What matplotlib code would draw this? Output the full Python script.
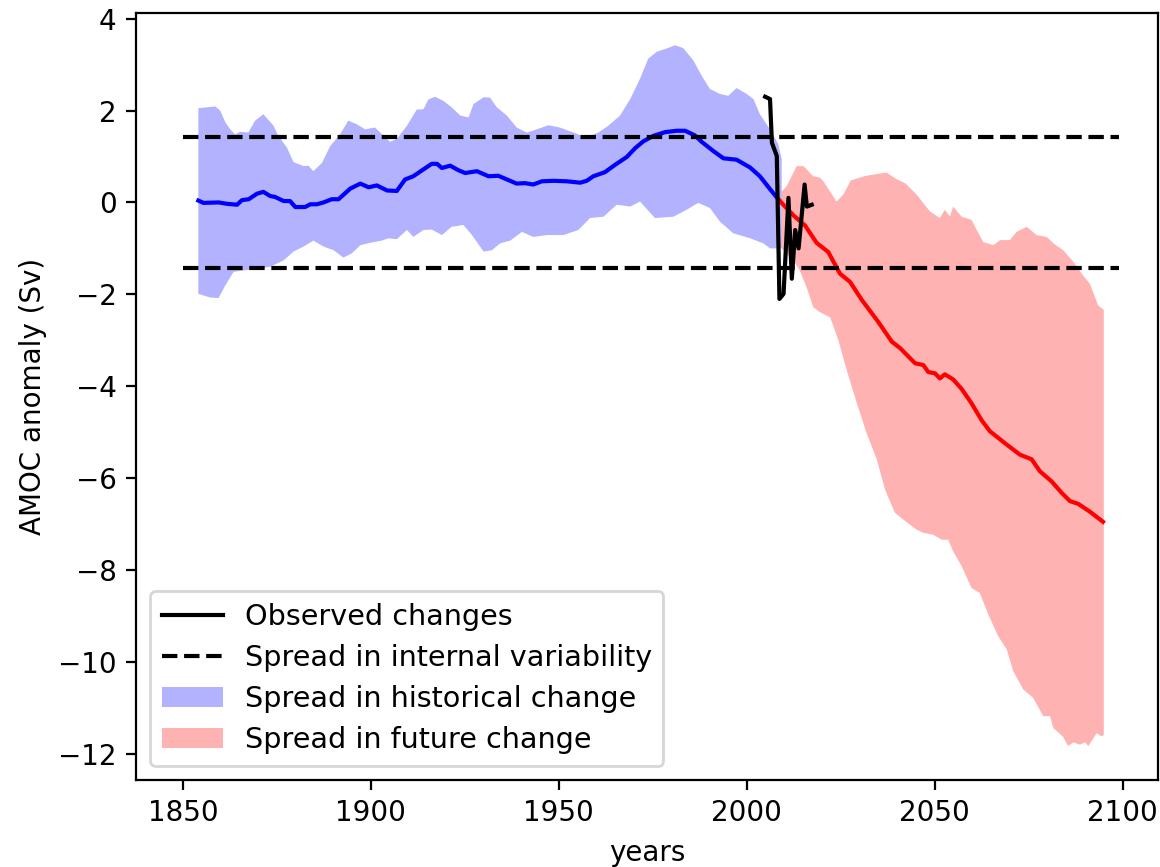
import numpy as np
import matplotlib
matplotlib.use("Agg")
import matplotlib.pyplot as plt

# historical ensemble mean and spread
hist_years = [1854.1, 1855.5, 1859.5, 1861.7, 1864.4, 1865.7, 1867.5, 1869.7, 1871.4, 1873.2,
              1874.5, 1876.8, 1878.5, 1879.9, 1882.5, 1883.9, 1885.6, 1887.4, 1889.6, 1891.4,
              1894.5, 1897.2, 1899.4, 1901.6, 1904.3, 1906.9, 1909.1, 1911.3, 1914.0, 1916.2,
              1917.6, 1918.9, 1921.1, 1923.3, 1925.1, 1928.2, 1931.3, 1933.9, 1936.2, 1938.8,
              1941.0, 1943.2, 1945.5, 1948.6, 1952.1, 1955.7, 1957.4, 1959.2, 1962.3, 1965.0,
              1968.1, 1970.3, 1972.5, 1975.2, 1978.3, 1981.4, 1983.6, 1986.2, 1988.0, 1991.1,
              1993.8, 1997.3, 2000.9, 2003.5, 2006.2, 2008.6]
hist_mean = [0.04, -0.01, 0.00, -0.03, -0.05, 0.05, 0.07, 0.19, 0.23, 0.14,
             0.12, 0.03, 0.03, -0.10, -0.10, -0.04, -0.04, 0.00, 0.07, 0.07,
             0.30, 0.41, 0.33, 0.37, 0.26, 0.25, 0.50, 0.57, 0.72, 0.84,
             0.84, 0.75, 0.80, 0.70, 0.64, 0.68, 0.57, 0.58, 0.50, 0.41,
             0.42, 0.39, 0.46, 0.47, 0.46, 0.43, 0.47, 0.57, 0.66, 0.82,
             0.99, 1.18, 1.33, 1.45, 1.53, 1.56, 1.56, 1.46, 1.32, 1.12,
             0.96, 0.93, 0.76, 0.57, 0.29, 0.05]

hist_hi_years = [1854.1, 1856.4, 1858.6, 1859.9, 1861.3, 1862.6, 1863.9, 1865.2, 1867.4, 1869.2,
                 1871.4, 1874.1, 1875.4, 1877.7, 1879.4, 1882.1, 1883.4, 1884.7, 1887.0, 1889.2,
                 1891.8, 1894.0, 1896.3, 1898.5, 1901.1, 1903.4, 1905.1, 1906.9, 1909.6, 1912.2,
                 1914.0, 1915.3, 1917.1, 1919.3, 1921.5, 1923.8, 1926.0, 1927.3, 1930.0, 1931.7,
                 1933.5, 1936.2, 1938.8, 1941.5, 1944.1, 1947.2, 1950.3, 1953.9, 1957.4, 1960.5,
                 1963.2, 1966.3, 1969.0, 1971.6, 1973.8, 1976.1, 1978.7, 1980.9, 1983.1, 1985.8,
                 1988.0, 1990.2, 1992.9, 1995.1, 1997.3, 2000.0, 2001.8, 2003.5, 2006.2, 2008.4,
                 2009.3]
hist_hi = [2.05, 2.07, 2.09, 2.00, 1.74, 1.59, 1.48, 1.54, 1.52, 1.78,
           1.92, 1.67, 1.45, 1.19, 0.88, 0.79, 0.80, 0.68, 0.86, 1.23,
           1.48, 1.78, 1.70, 1.59, 1.63, 1.45, 1.32, 1.38, 1.67, 2.02,
           2.03, 2.24, 2.30, 2.21, 2.07, 1.89, 1.85, 2.14, 2.29, 2.28,
           2.07, 1.89, 1.63, 1.52, 1.59, 1.68, 1.63, 1.52, 1.41, 1.52,
           1.67, 1.89, 2.25, 2.69, 3.13, 3.28, 3.35, 3.42, 3.36, 3.09,
           2.76, 2.47, 2.36, 2.32, 2.49, 2.36, 2.25, 1.92, 1.59, 1.27,
           0.94]

hist_lo_years = [1854.1, 1857.3, 1859.5, 1861.3, 1863.5, 1866.1, 1870.1, 1873.2, 1876.8, 1879.4,
                 1882.1, 1884.7, 1887.4, 1890.1, 1892.7, 1894.9, 1897.2, 1899.8, 1902.9, 1904.7,
                 1906.9, 1909.6, 1911.3, 1914.0, 1916.2, 1918.9, 1921.5, 1924.6, 1926.9, 1930.0,
                 1932.2, 1934.4, 1937.1, 1940.2, 1943.2, 1946.8, 1951.2, 1955.2, 1958.3, 1961.9,
                 1965.4, 1969.0, 1971.6, 1975.6, 1980.5, 1984.0, 1987.1, 1990.2, 1992.9, 1996.4,
                 2000.9, 2004.4, 2006.2, 2009.3]
hist_lo = [-1.99, -2.07, -2.08, -1.80, -1.51, -1.48, -1.44, -1.40, -1.26, -1.07,
           -0.96, -0.83, -0.96, -1.04, -1.20, -1.11, -0.93, -0.88, -0.83, -0.78,
           -0.80, -0.60, -0.75, -0.60, -0.59, -0.71, -0.53, -0.49, -0.71, -1.07,
           -1.04, -0.89, -0.83, -0.64, -0.75, -0.71, -0.71, -0.60, -0.34, -0.31,
           -0.05, -0.09, 0.02, -0.34, -0.31, -0.16, -0.01, -0.12, -0.42, -0.67,
           -0.78, -0.89, -1.00, -1.00]

# future projection mean and spread
fut_years = [2008.6, 2012.4, 2015.5, 2018.6, 2021.7, 2024.8, 2027.5, 2030.6, 2035.0, 2038.6,
             2040.8, 2044.8, 2047.0, 2048.3, 2050.1, 2051.4, 2052.7, 2054.9, 2057.2, 2059.8,
             2062.5, 2064.7, 2068.7, 2072.7, 2075.8, 2078.0, 2081.1, 2083.8, 2086.0, 2088.2,
             2091.3, 2094.8]
fut_mean = [0.05, -0.28, -0.50, -0.88, -1.08, -1.55, -1.73, -2.12, -2.60, -3.03,
            -3.17, -3.50, -3.54, -3.69, -3.72, -3.83, -3.74, -3.85, -4.06, -4.37,
            -4.74, -4.98, -5.24, -5.49, -5.59, -5.85, -6.07, -6.32, -6.50, -6.56,
            -6.73, -6.95]

fut_hi_years = [2009.3, 2010.6, 2013.3, 2015.1, 2017.7, 2019.5, 2020.4, 2023.9, 2025.7, 2027.7,
                2031.3, 2034.0, 2037.2, 2039.6, 2042.3, 2045.2, 2048.8, 2051.4, 2052.7, 2054.1,
                2054.9, 2057.2, 2059.8, 2062.9, 2065.6, 2067.4, 2070.0, 2071.8, 2074.5, 2077.1,
                2079.8, 2081.6, 2084.2, 2086.9, 2089.1, 2091.3, 2093.5, 2095.0]
fut_hi = [0.24, 0.35, 0.79, 0.79, 0.57, 0.54, 0.46, 0.02, 0.17, 0.48,
          0.57, 0.61, 0.65, 0.52, 0.41, 0.17, -0.20, -0.34, -0.16, -0.31,
          -0.09, -0.31, -0.38, -0.86, -0.93, -0.82, -0.82, -0.64, -0.53, -0.71,
          -0.75, -0.89, -1.04, -1.29, -1.55, -1.77, -2.24, -2.34]

fut_lo_years = [2009.3, 2012.4, 2014.1, 2015.9, 2017.7, 2019.5, 2022.2, 2024.4, 2026.6, 2029.3,
                2031.9, 2034.6, 2036.8, 2039.4, 2042.4, 2045.2, 2047.0, 2049.6, 2051.9, 2053.6,
                2054.9, 2057.2, 2059.8, 2062.0, 2064.3, 2066.9, 2069.2, 2070.9, 2073.6, 2076.2,
                2078.9, 2080.7, 2081.6, 2084.2, 2085.5, 2086.9, 2088.6, 2090.0, 2090.9, 2093.1,
                2094.4, 2095.0]
fut_lo = [-1.00, -1.26, -1.48, -1.84, -2.28, -2.39, -2.50, -3.00, -3.65, -4.37,
          -5.02, -5.59, -6.25, -6.75, -6.95, -7.12, -7.19, -7.23, -7.34, -7.34,
          -7.59, -7.92, -8.39, -8.50, -8.97, -9.44, -9.73, -10.20, -10.60, -10.78,
          -11.18, -11.18, -11.44, -11.63, -11.83, -11.75, -11.80, -11.75, -11.83, -11.55,
          -11.62, -11.59]

# observations
obs_years = [2004.9, 2006.2, 2006.7, 2008.0, 2008.7, 2009.8, 2011.1, 2012.0, 2012.9, 2013.8,
             2015.4, 2016.0, 2017.3]
obs = [2.30, 2.25, 1.30, 1.01, -2.10, -1.99, 0.10, -1.66, -0.60, -1.00,
       0.39, -0.09, -0.05]

# internal variability band
var_years = [1850, 2099]
var_spread = 1.43

fig = plt.figure(figsize=(5.8, 4.335), dpi=200)
ax = fig.add_axes([0.1172, 0.1003, 0.881, 0.8851])

ax.fill(np.concatenate([hist_hi_years, hist_lo_years[::-1]]),
        np.concatenate([hist_hi, hist_lo[::-1]]),
        color='b', alpha=0.3, lw=0, label='Spread in historical change')
ax.fill(np.concatenate([fut_hi_years, fut_lo_years[::-1]]),
        np.concatenate([fut_hi, fut_lo[::-1]]),
        color='r', alpha=0.3, lw=0, label='Spread in future change')
ax.plot(hist_years, hist_mean, color='b')
ax.plot(fut_years, fut_mean, color='r')
ax.plot(obs_years, obs, color='k', label='Observed changes')
ax.plot(var_years, [var_spread] * 2, 'k--', label='Spread in internal variability')
ax.plot(var_years, [-var_spread] * 2, 'k--')

ax.set_xlim(1837.5, 2109.4)
ax.set_ylim(-12.57, 4.13)

ax.set_xlabel('years')
ax.set_ylabel('AMOC anomaly (Sv)')

h, l = ax.get_legend_handles_labels()
order = [l.index(n) for n in ['Observed changes', 'Spread in internal variability',
                              'Spread in historical change', 'Spread in future change']]
ax.legend([h[i] for i in order], [l[i] for i in order], loc='lower left',
          fontsize=10.3, labelspacing=0.46, handlelength=2.15, handletextpad=0.75)

fig.savefig('out.png', dpi=200)
